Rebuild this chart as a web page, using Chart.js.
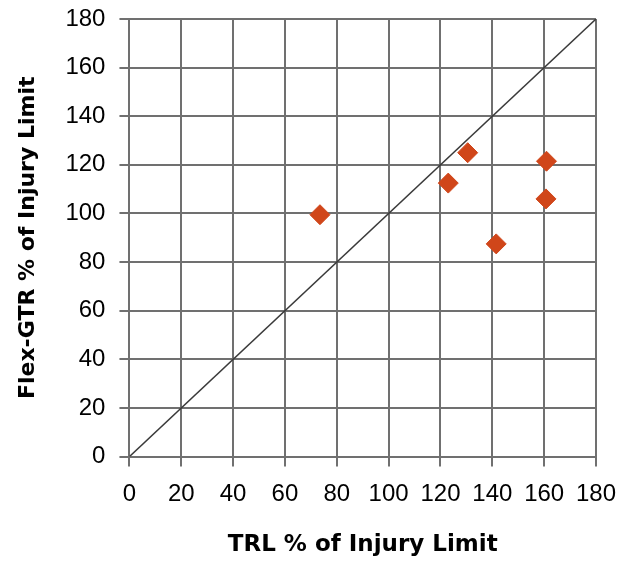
<!DOCTYPE html>
<html>
<head>
<meta charset="utf-8">
<script src="https://cdn.jsdelivr.net/npm/chart.js@4"></script>
<style>
  html, body { margin: 0; padding: 0; background: #fff; }
  #wrap { width: 621px; height: 564px; }
</style>
</head>
<body>
<div id="wrap"><canvas id="chart" width="621" height="564"></canvas></div>
<script>
// TRL vs Flex-GTR, both as % of injury limit
const trlValues = [73.5, 123, 130.5, 141.5, 160.7, 160.9];
const flexValues = [99.5, 112.5, 125, 87.5, 106, 121.5];
const identityLine = [0, 180]; // 1:1 reference

const gridColor = "#707070";

const points = trlValues.map((x, i) => ({ x: x, y: flexValues[i] }));
const refLine = identityLine.map((v) => ({ x: v, y: v }));

// let the layout padding alone decide the plot box
function noEdgePadding(scale) {
  scale.paddingTop = 0;
  scale.paddingBottom = 0;
  scale.paddingLeft = 0;
  scale.paddingRight = 0;
}

const ctx = document.getElementById("chart").getContext("2d");
new Chart(ctx, {
  type: "scatter",
  data: {
    datasets: [
      {
        label: "Points",
        data: points,
        pointStyle: "rectRot",
        pointRadius: 10,
        backgroundColor: "#d0461a",
        borderColor: "#d0461a",
        borderWidth: 1,
        order: 0,
      },
      {
        label: "1:1",
        data: refLine,
        showLine: true,
        pointRadius: 0,
        borderColor: "#3a3a3a",
        borderWidth: 1.5,
        order: 1,
      },
    ],
  },
  options: {
    responsive: false,
    animation: false,
    layout: { padding: { top: 19, right: 25, left: 15, bottom: 5 } },
    plugins: { legend: { display: false }, tooltip: { enabled: false } },
    scales: {
      x: {
        min: 0,
        max: 180,
        afterFit: noEdgePadding,
        ticks: {
          stepSize: 20,
          color: "#000",
          padding: 13,
          maxRotation: 0,
          font: { family: "Liberation Sans", size: 24 },
        },
        grid: { color: gridColor, lineWidth: 2, tickLength: 10 },
        border: { color: gridColor, width: 2 },
        title: {
          display: true,
          text: "TRL % of Injury Limit",
          color: "#000",
          padding: { top: 10, bottom: 0 },
          font: { family: "DejaVu Sans", size: 23, weight: "bold" },
        },
      },
      y: {
        min: 0,
        max: 180,
        afterFit: noEdgePadding,
        ticks: {
          stepSize: 20,
          color: "#000",
          padding: 14,
          font: { family: "Liberation Sans", size: 24 },
        },
        grid: { color: gridColor, lineWidth: 2, tickLength: 10 },
        border: { color: gridColor, width: 2 },
        title: {
          display: true,
          text: "Flex-GTR % of Injury Limit",
          color: "#000",
          padding: { top: 0, bottom: 10 },
          font: { family: "DejaVu Sans", size: 22, weight: "bold" },
        },
      },
    },
  },
});
</script>
</body>
</html>
